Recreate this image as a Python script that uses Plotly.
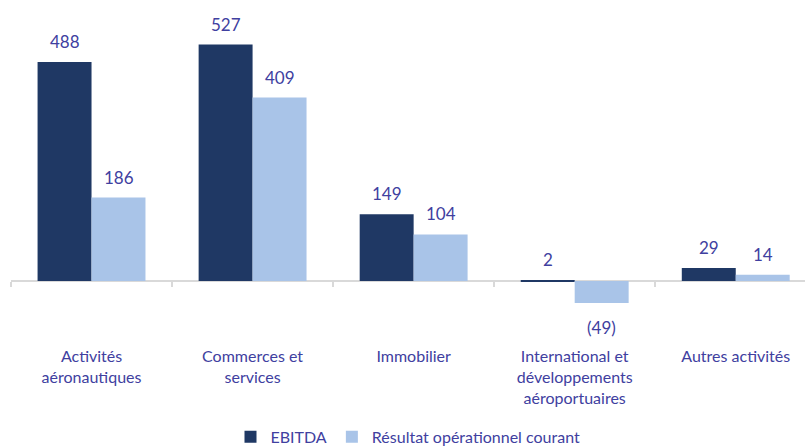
import plotly.graph_objects as go

categories = ["Activités<br>aéronautiques", "Commerces et<br>services", "Immobilier",
              "International et<br>développements<br>aéroportuaires", "Autres activités"]
ebitda = [488, 527, 149, 2, 29]
roc = [186, 409, 104, -49, 14]
series_names = ["EBITDA", "Résultat opérationnel courant"]

DARK = "#1F3864"
LIGHT = "#A9C4E8"
TXT = "#4040A0"
FONT = "Lato"

ymin, ymax = -109, 604
bargap = 0.33

fig = go.Figure()
fig.add_bar(x=categories, y=ebitda, name=series_names[0], marker_color=DARK,
            marker_line_width=0)
fig.add_bar(x=categories, y=roc, name=series_names[1], marker_color=LIGHT,
            marker_line_width=0)

def fmt(v):
    return f"({abs(v)})" if v < 0 else str(v)

off = (1 - bargap) / 4
annotations = []
for vals, sgn in ((ebitda, -1), (roc, 1)):
    for i, v in enumerate(vals):
        annotations.append(dict(
            x=i + sgn * off, y=v, xref="x", yref="y", text=fmt(v), showarrow=False,
            yanchor="bottom" if v >= 0 else "top",
            yshift=8 if v >= 0 else -12,
            font=dict(family=FONT, size=17, color=TXT)))

fig.update_layout(
    width=805, height=448,
    margin=dict(l=11, r=0, t=10, b=118, autoexpand=False),
    paper_bgcolor="white", plot_bgcolor="white",
    barmode="group", bargap=bargap, bargroupgap=0,
    font=dict(family=FONT, size=16, color=TXT),
    annotations=annotations,
    showlegend=True,
    legend=dict(orientation="h", x=0.5, xanchor="center", y=-0.334, yanchor="middle",
                font=dict(family=FONT, size=16, color=TXT), itemwidth=30,
                traceorder="normal"),
    xaxis=dict(
        type="category", automargin=False, layer="below traces",
        range=[-0.5, 4.43], anchor="free", position=(0 - ymin) / (ymax - ymin),
        showline=True, linecolor="#D9D9D9", linewidth=1.5,
        ticks="outside", tickson="boundaries", ticklen=5, tickcolor="#D9D9D9", tickwidth=1.5,
        ticklabelstandoff=61, showgrid=False, zeroline=False,
        tickfont=dict(family=FONT, size=16, color=TXT)),
    yaxis=dict(range=[ymin, ymax], visible=False, showgrid=False, zeroline=False,
               automargin=False),
)

fig.write_html("out.html", config={"displayModeBar": False},
               post_script="document.body.style.margin='0';")
